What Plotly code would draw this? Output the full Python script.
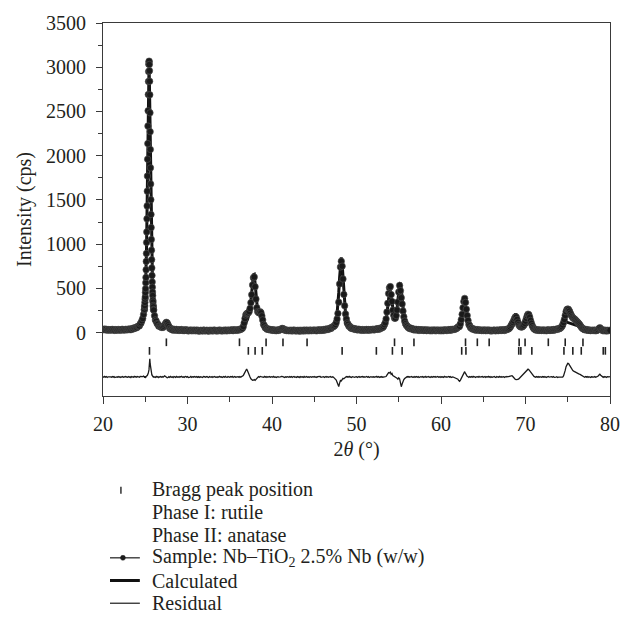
import numpy as np
import plotly.graph_objects as go

# ---------------------------------------------------------------------------
# 2θ grid: 0.1° steps, refined to 0.02° across the anatase (101) reflection
# ---------------------------------------------------------------------------
theta_low = np.round(np.arange(20.0, 24.85, 0.1), 2)       # 20.0 ... 24.8
theta_peak = np.round(np.arange(24.88, 26.001, 0.02), 2)   # 24.88 ... 26.00
theta_high = np.round(np.arange(26.1, 80.001, 0.1), 2)     # 26.1 ... 80.0

# Calculated (refined) profile, counts per second
calc_low = [
    36, 36, 35, 35, 34, 34, 33, 33, 33, 33,
    33, 33, 32, 32, 32, 32, 32, 32, 32, 32,
    32, 32, 33, 33, 33, 33, 34, 34, 35, 36,
    36, 37, 39, 40, 42, 44, 46, 49, 52, 56,
    60, 66, 73, 81, 93, 108, 127, 156, 197,
]
calc_peak = [
    251, 268, 289, 313, 341, 372, 408, 452, 503, 559,
    627, 707, 796, 893, 1009, 1133, 1272, 1423, 1586, 1758,
    1941, 2122, 2305, 2483, 2646, 2785, 2891, 2959, 2983, 2959,
    2891, 2785, 2646, 2483, 2305, 2122, 1941, 1758, 1586, 1423,
    1272, 1133, 1009, 893, 796, 707, 627, 559, 503, 452,
    408, 372, 341, 313, 289, 268, 251,
]
calc_high = [
    188, 150, 124, 105, 92, 81, 74, 67, 63,
    61, 61, 65, 77, 99, 122, 120, 95, 68, 53,
    45, 40, 38, 36, 35, 33, 33, 32, 31, 31,
    30, 30, 30, 29, 29, 29, 29, 28, 28, 28,
    26, 26, 26, 26, 25, 25, 25, 25, 25, 25,
    25, 25, 25, 24, 24, 24, 24, 24, 24, 24,
    24, 24, 24, 24, 24, 24, 24, 24, 24, 24,
    24, 24, 24, 24, 24, 24, 24, 24, 24, 24,
    24, 24, 24, 24, 24, 25, 25, 25, 25, 25,
    27, 27, 28, 28, 28, 29, 29, 30, 30, 31,
    32, 34, 35, 38, 41, 45, 55, 75, 100, 115,
    125, 150, 185, 225, 275, 360, 460, 578, 655, 660,
    558, 405, 295, 245, 225, 226, 232, 222, 188, 142,
    98, 72, 58, 49, 44, 40, 37, 35, 33, 31,
    30, 29, 28, 28, 27, 27, 27, 27, 28, 30,
    32, 36, 41, 43, 41, 35, 31, 28, 26, 25,
    25, 25, 24, 24, 24, 24, 24, 24, 24, 24,
    24, 24, 24, 24, 24, 24, 24, 24, 24, 24,
    25, 25, 25, 25, 26, 26, 26, 26, 26, 26,
    26, 27, 27, 27, 28, 28, 28, 29, 29, 30,
    31, 32, 33, 34, 36, 37, 39, 42, 44, 48,
    53, 59, 66, 76, 90, 113, 151, 215, 313, 453,
    622, 782, 852, 782, 622, 453, 313, 215, 151, 113,
    90, 76, 66, 59, 54, 50, 46, 44, 41, 39,
    38, 36, 35, 34, 33, 32, 31, 31, 31, 31,
    32, 32, 32, 32, 32, 33, 33, 33, 34, 34,
    35, 36, 37, 38, 39, 41, 43, 45, 48, 52,
    55, 61, 70, 86, 110, 151, 213, 297, 392, 463,
    466, 401, 314, 239, 188, 165, 170, 204, 271, 371,
    470, 555, 565, 505, 405, 295, 210, 150, 110, 87,
    71, 62, 55, 50, 47, 44, 41, 39, 37, 36,
    34, 33, 33, 32, 31, 31, 30, 30, 29, 29,
    28, 28, 28, 27, 27, 27, 27, 27, 26, 26,
    26, 26, 26, 26, 25, 25, 25, 26, 26, 26,
    26, 26, 27, 27, 27, 28, 28, 28, 29, 30,
    31, 32, 33, 35, 36, 40, 44, 51, 61, 74,
    89, 106, 121, 137, 163, 203, 256, 307, 328, 302,
    246, 186, 135, 98, 74, 59, 50, 44, 40, 37,
    35, 34, 32, 31, 30, 29, 29, 28, 28, 27,
    27, 27, 27, 26, 26, 26, 26, 26, 25, 25,
    25, 25, 25, 25, 25, 26, 26, 26, 26, 26,
    28, 28, 28, 29, 30, 30, 31, 33, 34, 36,
    39, 44, 52, 65, 84, 111, 145, 181, 207, 207,
    182, 147, 114, 87, 70, 59, 54, 53, 56, 64,
    76, 92, 110, 122, 121, 108, 89, 71, 57, 46,
    40, 36, 33, 31, 30, 29, 29, 28, 28, 28,
    27, 27, 27, 27, 27, 27, 27, 28, 28, 28,
    29, 30, 30, 31, 33, 34, 37, 40, 43, 46,
    48, 54, 63, 76, 90, 104, 115, 121, 122, 119,
    114, 111, 110, 109, 106, 102, 98, 96, 95, 93,
    89, 84, 77, 69, 60, 52, 47, 44, 41, 38,
    36, 34, 32, 31, 30, 29, 28, 28, 27, 27,
    26, 26, 26, 25, 25, 25, 25, 25, 25, 25,
    25, 25, 25, 25, 24, 24, 24, 24, 24, 24,
    24,
]

# Observed minus calculated, counts per second
diff_low = [
    4, -3, 6, -2, 5, -5, 2, 3, -4, 1,
    -3, 5, -2, 4, -6, 3, 1, -4, 5, -2,
    3, -5, 2, 6, -3, 1, -4, 5, -1, -3,
    5, -2, 3, -6, 4, 2, -3, 6, -1, 4,
    -3, 5, 2, -4, 6, 3, 8, 5, 10,
]
diff_peak = [
    5, -3, 4, -6, 2, 8, -4, 3, -5, 6,
    -2, 4, 10, 3, 12, 6, 15, 10, 14, 12,
    20, 15, 30, 25, 45, 55, 60, 75, 80, 110,
    140, 175, 195, 205, 180, 150, 130, 105, 95, 80,
    65, 55, 45, 40, 30, 25, 20, 15, 12, 8,
    12, -4, 6, -5, 3, -6, 4,
]
diff_high = [
    3, -5, 6, -2, 4, -7, 2, 5, -3,
    4, -2, 8, 12, 6, -4, -10, -6, 3, -5,
    6, -3, 2, -7, 5, 1, -4, 6, -2, 3,
    -5, 4, -1, 7, -3, 2, -6, 3, 5, -2,
    4, -6, 2, -1, 6, -4, 3, -2, 5, -3,
    -2, 5, -4, 3, -6, 2, 4, -1, -5, 6,
    3, -4, 1, 5, -2, -6, 4, 2, -3, 5,
    -4, 2, 6, -3, 1, -5, 3, -2, 7, -1,
    2, -5, 3, 4, -3, 6, -2, -4, 5, 1,
    -3, 4, -1, 6, -5, 2, 5, -3, 1, -4,
    3, -4, 5, -2, 4, 5, 15, 35, 60, 85,
    90, 70, 40, 15, 0, -20, -30, -38, -35, -30,
    -38, -25, -12, -6, 4, -3, 6, 3, 2, 3,
    -4, 6, -2, 4, -5, 3, -1, 5, -3, 2,
    4, -3, 6, -2, 1, -5, 3, 4, -2, 5,
    2, 6, 8, 4, -3, -6, 2, -4, 3, -1,
    -3, 4, -2, 5, -4, 2, 6, -3, 1, -5,
    4, -2, 3, -6, 5, -1, 2, -4, 6, -3,
    -2, 5, -3, 2, -5, 4, 1, -4, 3, -1,
    5, -3, 2, -6, 3, 4, -2, 5, -4, 1,
    -3, 4, -5, 2, 6, -2, 3, -4, 1, 5,
    -4, 3, 2, -5, -12, -20, -35, -60, -95, -108,
    -70, -40, -45, -30, -15, -20, -8, -3, 4, -2,
    5, -3, 6, -2, -5, 3, -1, 4, -4, 2,
    3, -5, 2, 6, -3, 1, -4, 5, -2, 3,
    -4, 2, 5, -3, 4, -6, 1, 3, -2, 5,
    2, -4, 3, -1, 6, -3, 4, -5, 2, -2,
    4, -3, 1, 5, 3, 5, 20, 35, 50, 45,
    55, 30, 40, 15, 10, 0, -5, -10, -15, -25,
    -10, -20, -90, -110, -80, -50, -30, -18, -8, -3,
    4, -2, 5, -4, 3, 6, -3, 2, -5, 4,
    -2, 5, -3, 4, -6, 2, 3, -1, 5, -4,
    3, -2, 6, -4, 1, 5, -3, 2, -5, 4,
    -3, 4, -1, 5, -4, 2, 6, -2, 3, -5,
    4, -3, 2, -5, 6, -1, 3, -4, 2, 5,
    -2, 4, -5, 3, 1, -3, -6, -10, -15, -20,
    -25, -40, -48, -35, -15, 5, 25, 45, 60, 40,
    20, 8, 3, -4, 5, -2, 4, -3, 6, -1,
    3, -5, 2, 4, -3, 6, -2, 1, -4, 5,
    -3, 2, 5, -4, 3, -1, 6, -2, 4, -5,
    2, -4, 3, 5, -2, -5, 4, 1, -3, 6,
    -2, 5, -3, 2, 4, -5, 3, -1, 6, 2,
    5, 8, 12, 18, 15, 5, -10, -20, -28, -30,
    -32, -28, -22, -12, -3, 5, 12, 22, 30, 42,
    55, 70, 82, 88, 82, 68, 50, 35, 22, 12,
    6, 2, -3, 4, -2, 5, -4, 3, 1, -3,
    4, -2, 5, -3, 2, -5, 3, 6, -2, 1,
    -3, 4, -2, 5, -4, 2, -1, 3, -5, -2,
    -3, -4, -5, -6, -2, 11, 35, 74, 116, 143,
    154, 151, 135, 113, 94, 80, 72, 66, 60, 52,
    46, 41, 38, 36, 32, 26, 17, 9, 4, 2,
    -3, 5, -2, 4, -4, 3, 1, -5, 2, -1,
    3, -2, 4, -3, 1, 3, 10, 22, 32, 20,
    8, 2, -4, 5, -2, 3, -5, 4, -1, 2,
    3,
]

# Bragg reflection positions (2θ, degrees)
rutile_2theta = [27.5, 36.15, 39.3, 41.3, 44.15, 54.5, 56.8, 62.9, 64.3,
                 65.7, 69.25, 69.95, 72.7, 74.7, 76.8]
anatase_2theta = [25.5, 37.2, 38.0, 38.85, 48.3, 52.35, 54.25, 55.4, 62.45,
                  62.95, 69.2, 69.45, 70.75, 74.55, 75.6, 76.6, 79.2, 79.45]

# Vertical placement of the tick rows and the difference curve (cps)
rutile_row = -108
anatase_row = -205
residual_offset = -500

x_ticks = [20, 30, 40, 50, 60, 70, 80]
x_minor = [25, 35, 45, 55, 65, 75]
y_ticks = [0, 500, 1000, 1500, 2000, 2500, 3000, 3500]
y_minor = [250, 750, 1250, 1750, 2250, 2750, 3250]

legend_labels = [
    "Bragg peak position",
    "Phase I: rutile",
    "Phase II: anatase",
    "Sample: Nb\u2013TiO<sub>2</sub> 2.5% Nb (w/w)",
    "Calculated",
    "Residual",
]

# ---------------------------------------------------------------------------
two_theta = np.concatenate([theta_low, theta_peak, theta_high])
calculated = np.concatenate([calc_low, calc_peak, calc_high]).astype(float)
difference = np.concatenate([diff_low, diff_peak, diff_high]).astype(float)
observed = calculated + difference
residual = difference + residual_offset

FONT = "Liberation Serif"
INK = "#231f20"
AXIS = "#3a3a3a"
FS = 20

W, H = 632, 639
L, R, T, B = 103, 20, 18, 243
PW, PH = W - L - R, H - T - B


def px_x(X):
    return (X - L) / PW


def px_y(Y):
    return (H - B - Y) / PH


fig = go.Figure()

fig.add_trace(go.Scatter(
    x=two_theta, y=calculated, mode="lines", name="Calculated",
    line=dict(color="#111111", width=3), showlegend=False,
))
fig.add_trace(go.Scatter(
    x=two_theta, y=observed, mode="lines+markers", name="Sample",
    line=dict(color="#1a1a1a", width=0.8),
    marker=dict(size=6.5, color="#1a1a1a", line=dict(color="#505050", width=0.6)),
    showlegend=False,
))
fig.add_trace(go.Scatter(
    x=two_theta, y=residual, mode="lines", name="Residual",
    line=dict(color="#1a1a1a", width=1.3), showlegend=False,
))
fig.add_trace(go.Scatter(
    x=rutile_2theta, y=[rutile_row] * len(rutile_2theta), mode="markers",
    name="Phase I: rutile",
    marker=dict(symbol="line-ns", size=5.5, line=dict(color="#222222", width=1.6)),
    showlegend=False,
))
fig.add_trace(go.Scatter(
    x=anatase_2theta, y=[anatase_row] * len(anatase_2theta), mode="markers",
    name="Phase II: anatase",
    marker=dict(symbol="line-ns", size=5.5, line=dict(color="#222222", width=1.6)),
    showlegend=False,
))

axis_common = dict(
    showline=True, linecolor=AXIS, linewidth=1, mirror=True,
    showgrid=False, zeroline=False,
    ticks="outside", tickcolor=AXIS, tickwidth=1,
    tickfont=dict(family=FONT, size=FS, color=INK),
)

fig.update_layout(
    width=W, height=H,
    margin=dict(l=L, r=R, t=T, b=B),
    paper_bgcolor="white", plot_bgcolor="white",
    font=dict(family=FONT, size=FS, color=INK),
    xaxis=dict(
        range=[20, 80], tickmode="array", tickvals=x_ticks, ticklen=7,
        ticklabelstandoff=3,
        minor=dict(tickmode="array", tickvals=x_minor, ticks="outside",
                   ticklen=5, tickcolor=AXIS, tickwidth=1),
        title=dict(text="2<i>\u03b8</i> (\u00b0)", standoff=7,
                   font=dict(family=FONT, size=FS, color=INK)),
        **axis_common,
    ),
    yaxis=dict(
        range=[-715, 3500], tickmode="array", tickvals=y_ticks, ticklen=6,
        ticklabelstandoff=6,
        minor=dict(tickmode="array", tickvals=y_minor, ticks="outside",
                   ticklen=4, tickcolor=AXIS, tickwidth=1),
        title=dict(text="Intensity (cps)", standoff=9,
                   font=dict(family=FONT, size=FS, color=INK)),
        **axis_common,
    ),
)

# Key below the axes
row_y = [491, 514, 537, 560, 583, 606]
for label, Y in zip(legend_labels, row_y):
    fig.add_annotation(
        x=px_x(150), y=px_y(Y), xref="paper", yref="paper",
        xanchor="left", yanchor="middle", showarrow=False,
        text=label, font=dict(family=FONT, size=FS, color=INK),
    )

# Bragg tick symbol
fig.add_shape(type="line", xref="paper", yref="paper",
              x0=px_x(121), x1=px_x(121), y0=px_y(488), y1=px_y(495),
              line=dict(color="#222222", width=1.4))
# Sample symbol: thin line with a dot
fig.add_shape(type="line", xref="paper", yref="paper",
              x0=px_x(110), x1=px_x(140), y0=px_y(row_y[3]), y1=px_y(row_y[3]),
              line=dict(color="#1a1a1a", width=1.2))
fig.add_shape(type="circle", xref="paper", yref="paper",
              x0=px_x(120.5), x1=px_x(125.5),
              y0=px_y(row_y[3] + 2.5), y1=px_y(row_y[3] - 2.5),
              fillcolor="#1c1c1c", line=dict(color="#1c1c1c", width=0.5))
# Calculated symbol: thick line
fig.add_shape(type="line", xref="paper", yref="paper",
              x0=px_x(110), x1=px_x(140), y0=px_y(row_y[4]), y1=px_y(row_y[4]),
              line=dict(color="#111111", width=3))
# Residual symbol: thin line
fig.add_shape(type="line", xref="paper", yref="paper",
              x0=px_x(110), x1=px_x(140), y0=px_y(row_y[5]), y1=px_y(row_y[5]),
              line=dict(color="#1a1a1a", width=1.2))

fig.write_html("out.html")
